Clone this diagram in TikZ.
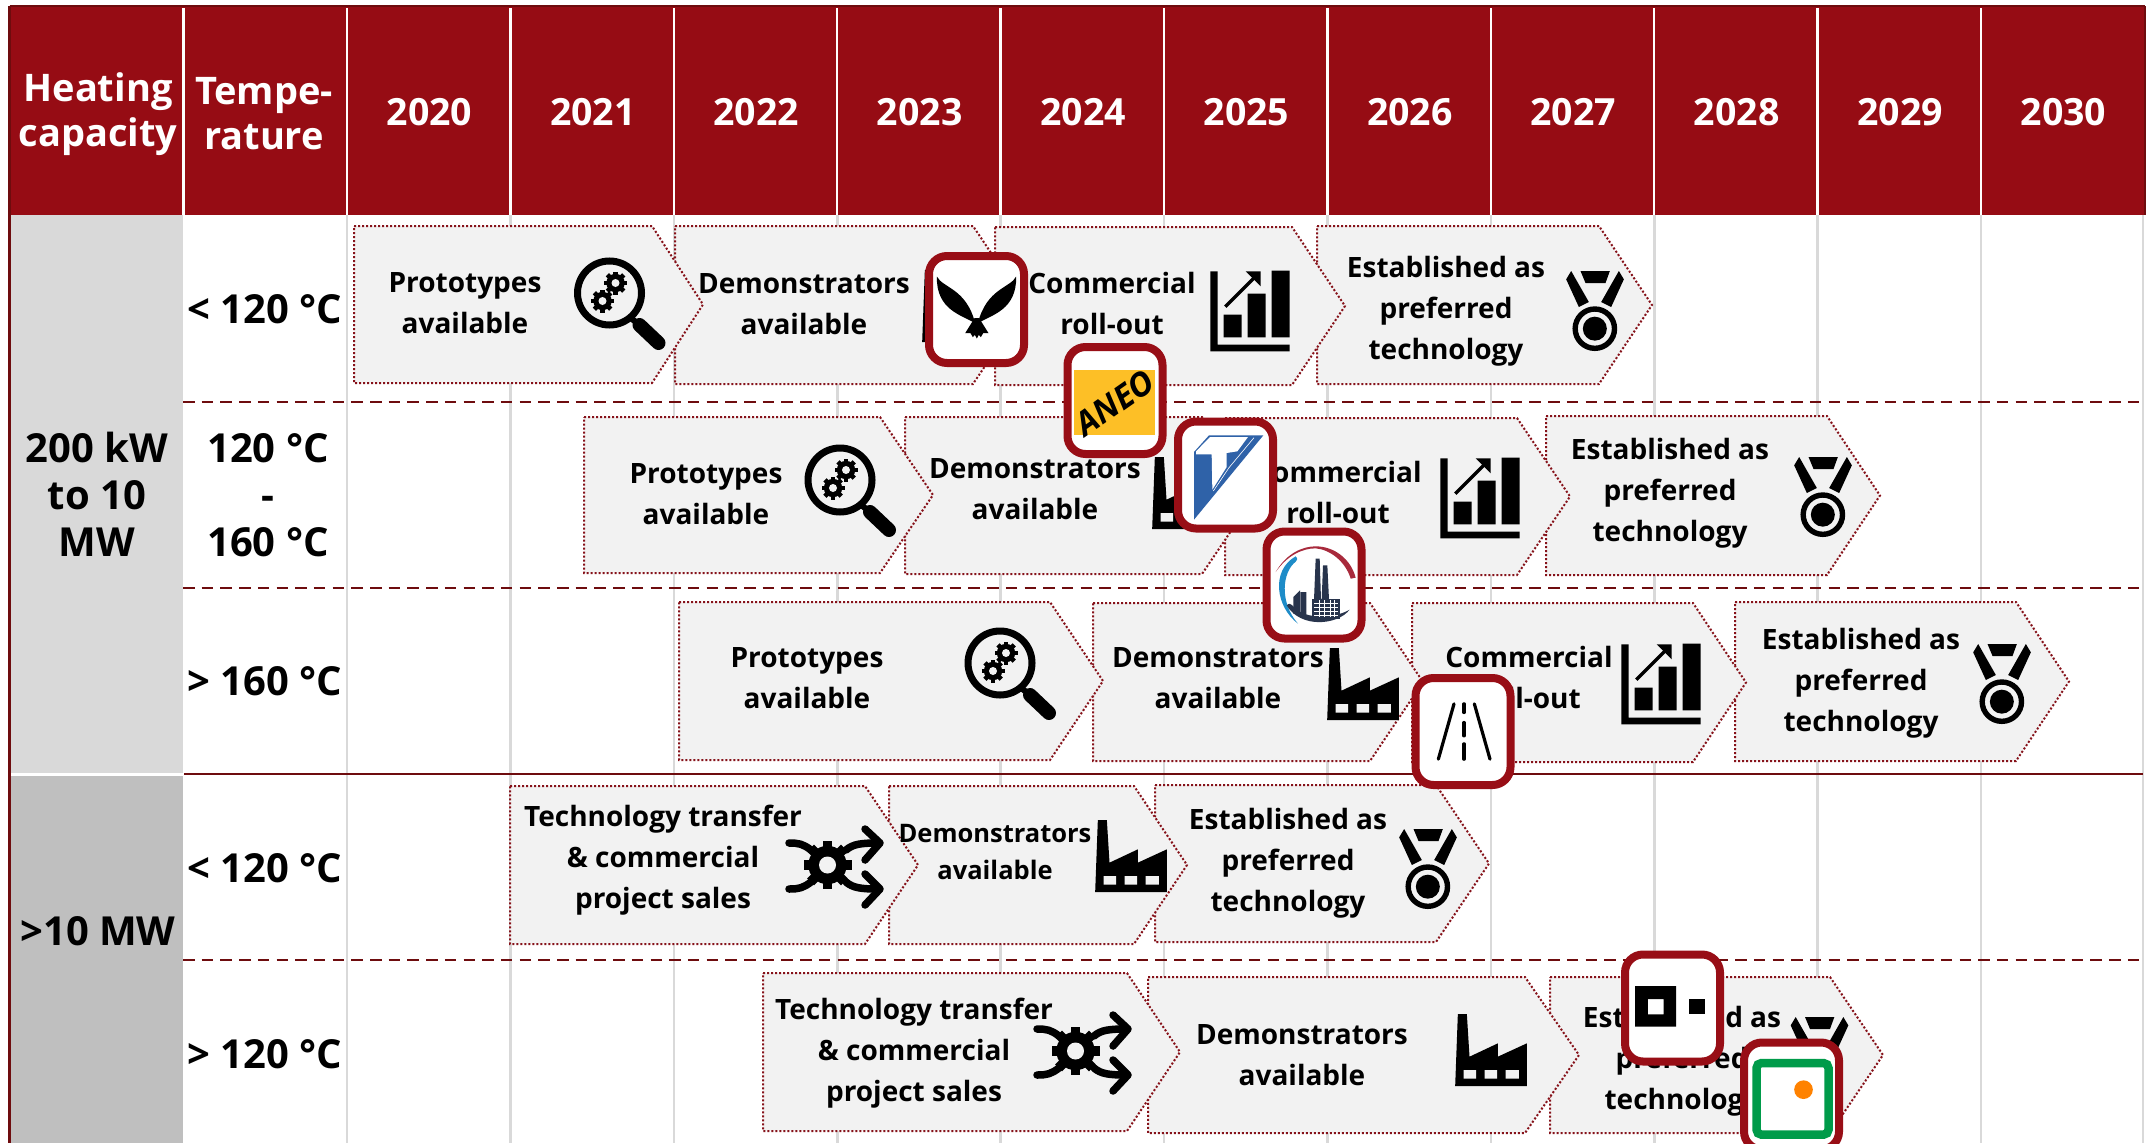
\documentclass[tikz,border=0pt]{standalone}
\usepackage{fontspec}
\setmainfont{Open Sans}
\definecolor{hdr}{HTML}{960C14}
\definecolor{frameline}{HTML}{6E0C0E}
\definecolor{logored}{HTML}{980E16}
\definecolor{band}{HTML}{F2F2F2}
\definecolor{gridgray}{HTML}{D9D9D9}
\definecolor{capA}{HTML}{D9D9D9}
\definecolor{capB}{HTML}{BFBFBF}
\definecolor{dotred}{HTML}{86121A}
\definecolor{navy}{HTML}{28344C}
\tikzset{
  x=1pt,y=-1pt,
  chevron/.style={fill=band,draw=dotred,line width=2pt,dash pattern=on 2pt off 2pt},
  grid/.style={draw=gridgray,line width=2.6pt},
  hdrsep/.style={draw=white,line width=2.4pt},
  rowsep/.style={draw=frameline,line width=2.8pt},
  rowdash/.style={rowsep,dash pattern=on 11.5pt off 7.2pt},
  hdrtext/.style={text=white,align=center,inner sep=0pt,font=\fontsize{38}{45}\selectfont\bfseries},
  yeartext/.style={text=white,inner sep=0pt,font=\fontsize{37.5}{45}\selectfont\bfseries},
  temptext/.style={align=center,inner sep=0pt,font=\fontsize{40}{47}\selectfont\bfseries},
  captext/.style={align=center,inner sep=0pt,font=\fontsize{40}{47}\selectfont\bfseries},
  bandtext/.style={align=center,inner sep=0pt,font=\fontsize{28}{41}\selectfont\bfseries},
  smalltext/.style={align=center,inner sep=0pt,font=\fontsize{25.5}{37}\selectfont\bfseries},
  logobox/.style={draw=logored,fill=white,line width=8pt,rounded corners=18pt,minimum width=95pt,minimum height=107pt,inner sep=0pt},
  zoomat/.style 2 args={x=0.33333pt,y=-0.33333pt,shift={(-#1,-#2)}},
  factory/.pic={
    \begin{scope}[zoomat={332.5}{1230}]
      \fill (233,1122)--(260,1122)--(268,1250)--(353,1210)--(353,1250)--(440,1210)--(440,1338)--(225,1338)--cycle;
      \fill[band] (250,1290) rectangle (288,1316) (313,1290) rectangle (351,1316) (376,1290) rectangle (416,1316);
    \end{scope}
  },
  chart/.pic={
    \begin{scope}[zoomat={1111}{274}]
      \fill (992,155)--(1014,155)--(1014,375)--(1230,375)--(1230,395)--(992,395)--cycle;
      \fill (1032,285) rectangle (1086,353) (1104,222) rectangle (1158,353) (1176,153) rectangle (1230,353);
      \draw[line width=3.3pt] (1037,261)--(1125,173);
      \fill (1098,155)--(1143,155)--(1143,200)--cycle;
    \end{scope}
  },
  medal/.pic={
    \begin{scope}[zoomat={143.5}{687}]
      \fill (100,567)--(188,567)--(175,603)--(115,603)--cycle;
      \fill (72,567)--(57,592)--(95,675)--(125,660)--cycle;
      \fill (215,567)--(230,592)--(192,675)--(162,660)--cycle;
      \draw[line width=5.4pt] (143,740) circle (59);
      \fill (143,740) circle (36);
    \end{scope}
  },
  lens/.pic={
    \draw[line width=7pt] (0,0) circle (32);
    \draw[line width=6pt] (20,24)--(30,32);
    \draw[line width=14pt,line cap=round] (30,32)--(49,50);
    \cog{6}{-10}{11.5}{4}
    \cog{-7}{8}{11.5}{4}
  },
  transfer/.pic={
    \begin{scope}[line width=7.5pt,line cap=round,line join=round]
      \draw (-46,-24) .. controls (-36,-24) and (-32,-23) .. (-24,-17);
      \draw (-46,22) .. controls (-36,22) and (-32,21) .. (-24,15);
      \draw (11,-17) .. controls (18,-23) and (26,-24) .. (44,-24);
      \draw (11,15) .. controls (18,21) and (26,22) .. (44,22);
      \draw (30,-38)--(45,-24)--(30,-7);
      \draw (30,7)--(45,22)--(30,38);
    \end{scope}
    \cog{-7.5}{-2}{24}{8.5}
  },
}
\newcommand{\cog}[4]{%
  \begin{scope}[shift={(#1,#2)}]
    \fill (0,0) circle ({0.8*#3});
    \foreach \ang in {0,45,...,315}{\fill[rotate=\ang] ({-0.2*#3},0) rectangle ({0.2*#3},{#3});}
    \fill[band] (0,0) circle (#4);
  \end{scope}}
\newcommand{\chev}[5]{\draw[chevron] (#1,#4)--(#2,#4)--(#3,{(#4+#5)/2})--(#2,#5)--(#1,#5)--cycle;}
\begin{document}
\begin{tikzpicture}
\useasboundingbox (0,0) rectangle (2146,1143);
\fill[white] (0,0) rectangle (2146,1143);
% capacity column
\fill[capA] (11,215) rectangle (183,773);
\fill[capB] (11,776) rectangle (183,1143);
% grid lines
\foreach \k in {0,...,10}{\draw[grid] ({347+163.4*\k},215)--({347+163.4*\k},1143);}
\draw[draw=gridgray,line width=1.5pt] (2143,215)--(2143,1143);
% header
\fill[hdr] (9,7) rectangle (2144,215);
\draw[frameline,line width=2.5pt] (9.5,6)--(2145,6);
\draw[frameline,line width=2.5pt] (9.5,6)--(9.5,1143);
\draw[frameline,line width=1.5pt] (2145,6)--(2145,215);
\draw[hdrsep] (183.5,8)--(183.5,215);
\foreach \k in {0,...,10}{\draw[hdrsep] ({347+163.4*\k},8)--({347+163.4*\k},215);}
% row separators
\draw[rowdash] (183,402)--(2143,402);
\draw[rowdash] (183,588)--(2143,588);
\draw[rowsep] (184,774)--(2143,774);
\draw[rowdash] (183,960)--(2143,960);
% chevrons, later ones underneath
\chev{1317}{1599}{1652}{226}{384}
\chev{995}{1292}{1345}{227}{385}
\chev{675}{973}{1026}{226}{384}
\chev{354}{652}{703}{226}{383}
\chev{1546}{1827}{1880}{416}{575}
\chev{1225}{1517}{1570}{418}{575}
\chev{905}{1202}{1255}{417}{574}
\chev{584}{880}{933}{417}{573}
\chev{1735}{2016}{2069}{602}{761}
\chev{1412}{1693}{1746}{603}{762}
\chev{1093}{1370}{1423}{603}{761}
\chev{679}{1050}{1103}{602}{760}
\chev{1155}{1436}{1489}{785}{942}
\chev{889}{1134}{1187}{786}{944}
\chev{510}{865}{918}{786}{944}
\chev{1550}{1830}{1883}{977}{1133}
\chev{1148}{1525}{1579}{977}{1133}
\chev{763}{1127}{1180}{973}{1131}
% icons
\pic (iconA) at (609.5,293) {lens};
\pic (iconB) at (840,480) {lens};
\pic (iconC) at (1000,663) {lens};
\pic (iconD) at (958,306) {factory};
\pic (iconE) at (1188,493) {factory};
\pic (iconF) at (1363,684) {factory};
\pic (iconG) at (1131,856) {factory};
\pic (iconH) at (1491,1050) {factory};
\pic (iconI) at (1250,311) {chart};
\pic (iconJ) at (1480,498) {chart};
\pic (iconK) at (1661,684) {chart};
\pic (iconL) at (1595,311) {medal};
\pic (iconM) at (1823,497) {medal};
\pic (iconN) at (2002,684) {medal};
\pic (iconO) at (1428,869) {medal};
\pic (iconP) at (1819.5,1057) {medal};
\pic (iconQ) at (835,867) {transfer};
\pic (iconR) at (1083,1053) {transfer};
% header text
\node[hdrtext] (hcap) at (98,114) {Heating\\capacity};
\node[hdrtext] (htemp) at (264,114) {Tempe-\\rature};
\foreach \y [count=\k from 0] in {2020,...,2030}{\node[yeartext] (y\y) at ({429.5+163.4*\k},112.5) {\y};}
% capacity and temperature labels
\node[captext] (capone) at (97,494) {200 kW\\to 10\\MW};
\node[captext] (captwo) at (98,931) {>10 MW};
\node[temptext] (tempA) at (265,309) {< 120 °C};
\node[temptext] (tempB) at (268,495) {120 °C\\-\\160 °C};
\node[temptext] (tempC) at (265,681) {> 160 °C};
\node[temptext] (tempD) at (265,868) {< 120 °C};
\node[temptext] (tempE) at (265,1054) {> 120 °C};
% band text
\node[bandtext] (tA1) at (465,303) {Prototypes\\available};
\node[bandtext] (tA2) at (804,304) {Demonstrators\\available};
\node[bandtext] (tA3) at (1112,303) {Commercial\\roll-out};
\node[bandtext] (tA4) at (1446,311) {Established as\\preferred\\technology};
\node[bandtext] (tB1) at (706,494) {Prototypes\\available};
\node[bandtext] (tB2) at (1035,489) {Demonstrators\\available};
\node[bandtext] (tB3) at (1338,492) {Commercial\\roll-out};
\node[bandtext] (tB4) at (1670,493) {Established as\\preferred\\technology};
\node[bandtext] (tC1) at (807,678) {Prototypes\\available};
\node[bandtext] (tC2) at (1218,678) {Demonstrators\\available};
\node[bandtext] (tC3) at (1529,677.5) {Commercial\\roll-out};
\node[bandtext] (tC4) at (1861,683) {Established as\\preferred\\technology};
\node[bandtext] (tD1) at (663,860) {Technology transfer\\\& commercial\\project sales};
\node[smalltext] (tD2) at (995,852) {Demonstrators\\available};
\node[bandtext] (tD3) at (1288,863) {Established as\\preferred\\technology};
\node[bandtext] (tE1) at (914,1053) {Technology transfer\\\& commercial\\project sales};
\node[bandtext] (tE2) at (1302,1055) {Demonstrators\\available};
\node[bandtext] (tE3) at (1682,1061) {Established as\\preferred\\technology};
% logo frames
\node[logobox] (owl) at (976.5,309.5) {};
\node[logobox] (aneo) at (1115,400.5) {};
\node[logobox] (tlogo) at (1225.5,475) {};
\node[logobox] (plant) at (1314,585) {};
\node[logobox] (road) at (1463,731.5) {};
\node[logobox] (squares) at (1672.5,1008) {};
\node[logobox] (greenbox) at (1791.5,1096) {};
% owl
\begin{scope}[shift={(owl.center)},zoomat={156}{174}]
  \fill (37,75) .. controls (55,110) and (125,110) .. (152,215) .. controls (110,190) and (35,175) .. (37,75) -- cycle;
  \fill (275,75) .. controls (257,110) and (187,110) .. (160,215) .. controls (202,190) and (277,175) .. (275,75) -- cycle;
  \fill (150,200)--(122,245)--(138,245)--(145,257)--(151,250)--(157,261)--(163,250)--(169,257)--(176,245)--(192,245)--(164,200)--cycle;
\end{scope}
% ANEO
\begin{scope}[shift={(aneo.center)},zoomat={705}{541}]
  \fill[fill={rgb,255:red,253;green,191;blue,38}] (582,450) rectangle (825,645);
  \node[rotate=35,inner sep=0pt,font=\fontsize{33}{33}\selectfont\bfseries\itshape] (aneotext) at (705,548) {ANEO};
\end{scope}
% T logo
\begin{scope}[shift={(tlogo.center)},zoomat={154.5}{174}]
  \definecolor{tblue}{HTML}{2F62A8}
  \fill[tblue] (60,105)--(105,55)--(268,55)--(60,308)--cycle;
  \fill[white] (66,103)--(108,60)--(222,60)--(190,103)--(158,108)--(158,150)--(115,218)--(113,112)--(66,112)--cycle;
  \draw[white,line width=0.6pt] (240,62)--(165,152)--(118,222);
\end{scope}
% plant logo
\begin{scope}[shift={(plant.center)},zoomat={420}{504}]
  \definecolor{arcred}{HTML}{A82A3C}
  \definecolor{arcblue}{HTML}{1E8CC8}
  \fill[arcred] (305,465) .. controls (340,405) and (390,388) .. (425,388) .. controls (480,388) and (530,425) .. (545,482) -- (530,485) .. controls (515,435) and (470,398) .. (425,394) .. controls (385,394) and (340,415) .. cycle;
  \fill[arcblue] (365,418) .. controls (372,425) and (370,430) .. (365,434) .. controls (325,465) and (315,555) .. (372,620) .. controls (305,570) and (290,460) .. (365,418) -- cycle;
  \fill[navy] (338,565) .. controls (345,558) and (350,560) .. (355,565) .. controls (385,605) and (470,610) .. (527,578) .. controls (490,625) and (380,635) .. (338,565) -- cycle;
  \fill[navy] (425,425)--(437,425)--(441,548)--(420,548)--cycle (447,445)--(460,445)--(465,548)--(443,548)--cycle;
  \fill[navy] (413,545) rectangle (497,606);
  \fill[navy] (358,540)--(378,520)--(378,595)--(358,590)--cycle (380,525)--(397,525)--(397,605)--(380,600)--cycle;
  \draw[white,line width=0.7pt] (420,560)--(492,560) (420,572)--(492,572) (420,584)--(492,584) (420,596)--(492,596) (436,550)--(436,600) (452,550)--(452,600) (468,550)--(468,600) (482,550)--(482,600);
\end{scope}
% road
\begin{scope}[shift={(road.center)},zoomat={249}{275}]
  \draw[line width=3.2pt,line cap=round] (175,358)--(222,192) (330,358)--(283,192);
  \draw[line width=3.2pt,line cap=round] (252,192)--(252,218) (252,248)--(252,288) (252,312)--(252,358);
\end{scope}
% squares
\begin{scope}[shift={(squares.center)},zoomat={877}{1104}]
  \fill[even odd rule] (765,1038) rectangle (888,1160) (803,1077) rectangle (850,1123);
  \fill (927,1076) rectangle (973,1123);
\end{scope}
% green logo
\begin{scope}[shift={(greenbox.center)},zoomat={1234}{1369}]
  \draw[draw={rgb,255:red,0;green,155;blue,74},line width=8.5pt,rounded corners=5pt] (1129,1270) rectangle (1345,1485);
  \fill[fill={rgb,255:red,255;green,130;blue,0}] (1270,1350) circle (28);
\end{scope}
\end{tikzpicture}
\end{document}
